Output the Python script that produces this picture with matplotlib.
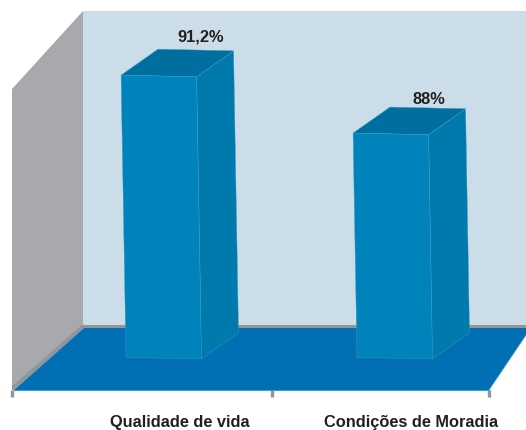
import matplotlib
matplotlib.use("Agg")
import matplotlib.pyplot as plt
from matplotlib.patches import Polygon

categories = ["Qualidade de vida", "Condições de Moradia"]
values = [91.2, 88.0]
value_labels = ["91,2%", "88%"]

plt.rcParams['font.family'] = ['Liberation Sans', 'DejaVu Sans']

INK = "#231f20"
WALL = "#cbdde8"
SIDE_WALL = "#a7a9ac"
LEDGE = "#939598"
FLOOR = "#006fb3"
FRONT = "#0082bb"
SIDE = "#0079ad"
TOP = "#006fa0"
EDGE = "#3f9cc4"

# value axis of the perspective drawing
BASE_Y = 357.5
VALUE_AT_BASE = 75.6
PX_PER_UNIT = 18.1
TAPER = 0.0175
BAR_W = 75.5
DX, DY = 37, -26
bar_left = [126, 357]
text_x = [179.5, 411.5]
label_lift = [38, 34]
label_shift = [23.5, 19.5]


def y_of(v):
    return BASE_Y - (v - VALUE_AT_BASE) * PX_PER_UNIT


fig = plt.figure(figsize=(5.26, 4.30), dpi=100)
ax = fig.add_axes([0, 0, 1, 1])
ax.set_xlim(0, 526)
ax.set_ylim(430, 0)
ax.axis("off")


def poly(pts, fc, ec="none", lw=0, z=1):
    ax.add_patch(Polygon(pts, closed=True, facecolor=fc, edgecolor=ec, linewidth=lw, zorder=z, joinstyle="round"))


# walls and floor
poly([(83, 11), (526, 11), (526, 326), (83, 326)], WALL, z=1)
poly([(12, 89), (83, 11), (83, 325), (12, 387)], SIDE_WALL, z=1)
poly([(83, 325), (526, 325), (526, 329), (83, 329)], LEDGE, z=2)
poly([(12, 386), (83, 324), (83, 329), (14, 390), (12, 390)], LEDGE, z=2)
poly([(84, 328), (526, 328), (526, 335), (489, 390), (14, 390)], FLOOR, z=3)
ax.plot([14, 489], [390, 390], color="#3f9ccf", lw=0.8, zorder=4)
ax.plot([489, 526], [390, 335], color="#3f9ccf", lw=0.5, zorder=4)
for tx in [11.5, 271.5, 488.5]:
    ax.plot([tx, tx], [390, 397], color=LEDGE, lw=2.4, solid_capstyle="butt", zorder=2)

# bars
for x0, v, lab, lift, shift in zip(bar_left, values, value_labels, label_lift, label_shift):
    top = y_of(v)
    h = BASE_Y - top
    off = TAPER * h
    bl = (x0, BASE_Y)
    br = (x0 + BAR_W, BASE_Y + 1.3)
    tl = (x0 - off, top)
    tr = (x0 + BAR_W - off, top + 1.7)
    sb = (br[0] + DX, br[1] + DY)
    st = (tr[0] + DX, tr[1] + DY)
    tb = (tl[0] + DX, tl[1] + DY)
    poly([br, sb, st, tr], SIDE, ec=EDGE, lw=0.3, z=5)
    poly([tl, tb, st, tr], TOP, ec=EDGE, lw=0.3, z=6)
    poly([bl, br, tr, tl], FRONT, ec=EDGE, lw=0.3, z=7)
    ax.text((tl[0] + st[0]) / 2 + shift, top - lift, lab, ha="center", va="center",
            fontsize=11.8, fontweight="bold", color=INK, zorder=8)

for tx, cat in zip(text_x, categories):
    ax.text(tx, 422.5, cat, ha="center", va="center", fontsize=11.8,
            fontweight="bold", color=INK)

fig.savefig("out.png", dpi=100, facecolor="white")
